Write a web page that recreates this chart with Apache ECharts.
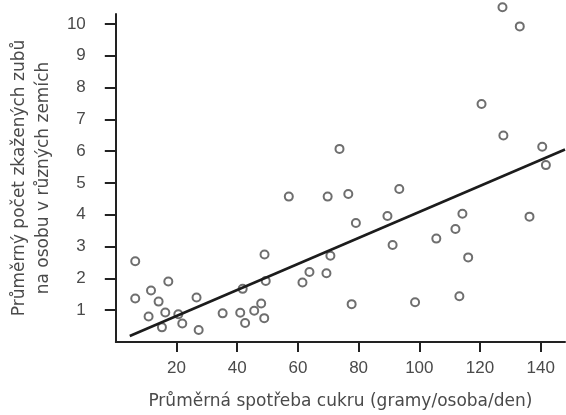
<!DOCTYPE html>
<html>
<head>
<meta charset="utf-8">
<script src="https://cdn.jsdelivr.net/npm/echarts@6/dist/echarts.min.js"></script>
<style>html,body{margin:0;padding:0;background:#fff}#c{width:566px;height:415px}</style>
</head>
<body>
<div id="c"></div>
<script>
// Data
const sugar = [6.4, 6.4, 10.8, 11.6, 14.1, 15.2, 16.3, 17.3, 20.6, 21.9, 26.6, 27.3, 35.2, 41.0, 41.8, 42.6, 45.6, 47.9, 49.0, 49.4, 48.9, 57.0, 69.8, 61.5, 63.8, 69.4, 70.7, 73.7, 76.6, 79.1, 77.7, 89.5, 93.4, 91.2, 98.6, 105.6, 111.9, 114.2, 113.2, 116.1, 120.5, 127.7, 127.4, 133.1, 136.3, 140.5, 141.7];
const teeth = [2.54, 1.37, 0.80, 1.62, 1.27, 0.46, 0.93, 1.90, 0.87, 0.58, 1.40, 0.38, 0.90, 0.92, 1.67, 0.60, 0.98, 1.21, 2.75, 1.92, 0.75, 4.57, 4.57, 1.87, 2.20, 2.16, 2.71, 6.07, 4.65, 3.74, 1.19, 3.96, 4.81, 3.05, 1.25, 3.25, 3.55, 4.03, 1.44, 2.66, 7.48, 6.49, 10.52, 9.92, 3.94, 6.14, 5.56];
const fitX = [4.6, 148];
const fitY = [0.19, 6.05];
const xTicks = [20, 40, 60, 80, 100, 120, 140];
const yTicks = [1, 2, 3, 4, 5, 6, 7, 8, 9, 10];
const xName = 'Průměrná spotřeba cukru (gramy/osoba/den)';
const yName = 'Průměrný počet zkažených zubů\nna osobu v různých zemích';

const points = sugar.map((v, i) => [v, teeth[i]]);
const fitLine = fitX.map((v, i) => [v, fitY[i]]);

const txt = '#4a4a4a';
const ax = '#222';
const font = 'Liberation Sans, Arial, sans-serif';
const nameFont = 'DejaVu Sans, sans-serif';

const chart = echarts.init(document.getElementById('c'), null, {renderer: 'canvas'});
chart.setOption({
  animation: false,
  backgroundColor: '#fff',
  grid: {left: 114, right: 1, top: 14, bottom: 71, containLabel: false},
  xAxis: {
    type: 'value', min: 0, max: 148,
    name: xName, nameLocation: 'middle', nameGap: 51,
    nameTextStyle: {color: txt, fontSize: 17, fontFamily: nameFont},
    axisLine: {show: true, lineStyle: {color: ax, width: 2}},
    axisTick: {show: true, inside: false, length: 10, lineStyle: {color: ax, width: 2}, customValues: xTicks},
    axisLabel: {color: txt, fontSize: 17, fontFamily: font, margin: 18, customValues: xTicks},
    splitLine: {show: false}
  },
  yAxis: {
    type: 'value', min: 0, max: 10.31,
    name: yName, nameLocation: 'middle', nameGap: 55, nameRotate: 90,
    nameTextStyle: {color: txt, fontSize: 17, fontFamily: nameFont, lineHeight: 24, align: 'center'},
    axisLine: {show: true, lineStyle: {color: ax, width: 2}},
    axisTick: {show: true, inside: false, length: 11, lineStyle: {color: ax, width: 2}, customValues: yTicks},
    axisLabel: {color: txt, fontSize: 17, fontFamily: font, margin: 30, customValues: yTicks},
    splitLine: {show: false}
  },
  series: [
    {
      type: 'scatter', data: points, symbol: 'circle', symbolSize: 8, clip: false,
      itemStyle: {color: '#fff', borderColor: '#4a4a4a', borderWidth: 2}
    },
    {
      type: 'line', data: fitLine, symbol: 'none', clip: false,
      lineStyle: {color: '#1c1c1c', width: 2.6}
    }
  ]
});
</script>
</body>
</html>
